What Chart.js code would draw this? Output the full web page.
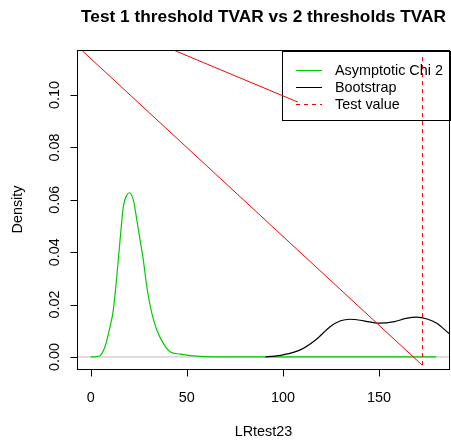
<!DOCTYPE html>
<html lang="en">
<head>
    <meta charset="UTF-8">
    <title>Test 1 threshold TVAR vs 2 thresholds TVAR</title>
    <script src="https://cdn.jsdelivr.net/npm/chart.js"></script>
    <style>
        body { margin: 0; background: #fff; }
        canvas { display: block; }
    </style>
</head>
<body>
    <canvas id="myChart" width="451" height="440"></canvas>

    <script>
        // asymptotic chi 2 density
        const chiX = [0, 3, 4.9, 7.5, 10.1, 11.8, 13.6, 15.3, 17.0, 18.8, 20.2, 22.2, 24.0, 25.7, 27.4, 29.2, 31.8, 34.4, 37.8, 41.3, 46.5, 55, 65, 100, 150, 179.7]
        const chiY = [0, 0.0001, 0.0005, 0.004, 0.0116, 0.018, 0.0307, 0.0447, 0.0574, 0.0618, 0.0627, 0.060, 0.0523, 0.0447, 0.037, 0.0268, 0.0167, 0.0103, 0.0052, 0.002, 0.0011, 0.0003, 0, 0, 0, 0]

        // bootstrap density
        const bootX = [91, 100, 109, 117, 124.7, 130, 135, 142, 150, 158, 164, 169.5, 175, 180, 187.3, 192]
        const bootY = [0, 0.0008, 0.0027, 0.0065, 0.0116, 0.0138, 0.0144, 0.0138, 0.0129, 0.0135, 0.0147, 0.0152, 0.0145, 0.0129, 0.0084, 0.006]

        const testValue = 172.6
        const testLineY = [-0.0031, 0.1145]

        // stray red lines
        const red1X = [-12, 172.4]
        const red1Y = [0.1221, -0.0031]
        const red2X = [30, 107.8]
        const red2Y = [0.1212, 0.0973]

        const xTicks = [0, 50, 100, 150]
        const yTicks = [0, 0.02, 0.04, 0.06, 0.08, 0.10]

        const legendLabels = ['Asymptotic Chi 2', 'Bootstrap', 'Test value']
        const legendColors = ['#00CD00', '#000000', '#FF0000']

        const toPts = (xs, ys) => xs.map((x, i) => ({ x: x, y: ys[i] }))

        const font = '14.4px "Liberation Sans", Arial, sans-serif'

        const rPlot = {
            id: 'rPlot',
            beforeDatasetsDraw(chart) {
                const ctx = chart.ctx
                const x = chart.scales.x
                const y = chart.scales.y
                // legend box
                ctx.save()
                ctx.strokeStyle = '#000'
                ctx.lineWidth = 1
                ctx.strokeRect(282.5, 51.5, 168, 69)
                ctx.font = font
                ctx.textBaseline = 'middle'
                ctx.fillStyle = '#000'
                const rows = [70, 87, 104]
                legendLabels.forEach((lab, i) => {
                    ctx.beginPath()
                    ctx.strokeStyle = legendColors[i]
                    if (i === 2) ctx.setLineDash([4, 4])
                    ctx.moveTo(296, rows[i] + 0.5)
                    ctx.lineTo(322, rows[i] + 0.5)
                    ctx.stroke()
                    ctx.setLineDash([])
                    ctx.fillText(lab, 335, rows[i] + 1)
                })
                ctx.restore()
            },
            afterDraw(chart) {
                const ctx = chart.ctx
                const a = chart.chartArea
                const x = chart.scales.x
                const y = chart.scales.y
                ctx.save()
                ctx.strokeStyle = '#000'
                ctx.lineWidth = 1
                ctx.strokeRect(Math.round(a.left) + 0.5, Math.round(a.top) + 0.5, Math.round(a.right - a.left) - 1, Math.round(a.bottom - a.top))

                // x axis
                const yb = Math.round(a.bottom) + 0.5
                ctx.beginPath()
                ctx.moveTo(x.getPixelForValue(xTicks[0]), yb)
                ctx.lineTo(x.getPixelForValue(xTicks[xTicks.length - 1]), yb)
                xTicks.forEach(t => {
                    const px = Math.round(x.getPixelForValue(t)) + 0.5
                    ctx.moveTo(px, yb)
                    ctx.lineTo(px, yb + 7)
                })
                ctx.stroke()
                ctx.fillStyle = '#000'
                ctx.font = font
                ctx.textAlign = 'center'
                ctx.textBaseline = 'alphabetic'
                xTicks.forEach(t => {
                    ctx.fillText(String(t), x.getPixelForValue(t), 402)
                })

                // y axis
                const xl = Math.round(a.left) + 0.5
                ctx.beginPath()
                ctx.moveTo(xl, y.getPixelForValue(yTicks[0]))
                ctx.lineTo(xl, y.getPixelForValue(yTicks[yTicks.length - 1]))
                yTicks.forEach(t => {
                    const py = Math.round(y.getPixelForValue(t)) + 0.5
                    ctx.moveTo(xl, py)
                    ctx.lineTo(xl - 7, py)
                })
                ctx.stroke()
                yTicks.forEach(t => {
                    ctx.save()
                    ctx.translate(59, y.getPixelForValue(t))
                    ctx.rotate(-Math.PI / 2)
                    ctx.fillText(t.toFixed(2), 0, 0)
                    ctx.restore()
                })

                // axis titles
                ctx.fillText('LRtest23', (a.left + a.right) / 2, 436)
                ctx.save()
                ctx.translate(22, (a.top + a.bottom) / 2)
                ctx.rotate(-Math.PI / 2)
                ctx.fillText('Density', 0, 0)
                ctx.restore()

                // main title
                ctx.font = 'bold 17.3px "Liberation Sans", Arial, sans-serif'
                ctx.fillText('Test 1 threshold TVAR vs 2 thresholds TVAR', (a.left + a.right) / 2, 22)
                ctx.restore()
            }
        }

        const ctx = document.getElementById('myChart').getContext('2d')
        const myChart = new Chart(ctx, {
            type: 'line',
            data: {
                datasets: [
                    {
                        data: toPts([-20, 200], [0, 0]),
                        borderColor: '#BEBEBE',
                        borderWidth: 1,
                        order: 6
                    },
                    {
                        data: toPts(chiX, chiY),
                        borderColor: '#00CD00',
                        borderWidth: 1.2,
                        cubicInterpolationMode: 'monotone',
                        order: 5
                    },
                    {
                        data: toPts(bootX, bootY),
                        borderColor: '#000000',
                        borderWidth: 1.2,
                        cubicInterpolationMode: 'monotone',
                        order: 4
                    },
                    {
                        data: toPts(red1X, red1Y),
                        borderColor: '#FF0000',
                        borderWidth: 1,
                        order: 3
                    },
                    {
                        data: toPts(red2X, red2Y),
                        borderColor: '#FF0000',
                        borderWidth: 1,
                        order: 2
                    },
                    {
                        data: toPts([testValue, testValue], testLineY),
                        borderColor: '#FF0000',
                        borderWidth: 1,
                        borderDash: [4, 4],
                        order: 1
                    }
                ]
            },
            options: {
                responsive: false,
                animation: false,
                devicePixelRatio: 1,
                layout: {
                    padding: { left: 77, right: 1, top: 50, bottom: 71 }
                },
                elements: {
                    point: { radius: 0 }
                },
                plugins: {
                    legend: { display: false },
                    tooltip: { enabled: false }
                },
                scales: {
                    x: { type: 'linear', display: false, min: -7.1, max: 186.9 },
                    y: { type: 'linear', display: false, min: -0.0046, max: 0.1172 }
                }
            },
            plugins: [rPlot]
        })
    </script>
</body>
</html>
